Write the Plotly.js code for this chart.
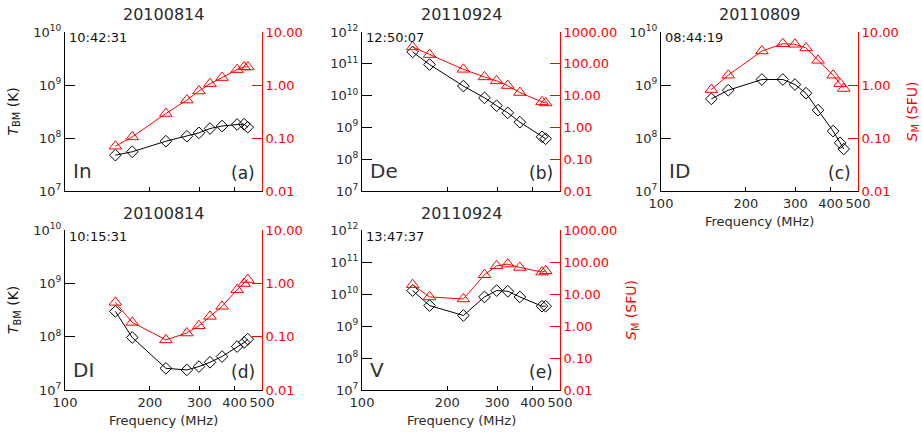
<!DOCTYPE html>
<html>
<head>
<meta charset="utf-8">
<script src="https://cdn.plot.ly/plotly-3.0.1.min.js"></script>
<style>html,body{margin:0;padding:0;background:#fff;}#chart{width:922px;height:433px;}</style>
</head>
<body>
<div id="chart"></div>
<script>
// ---- data ----
const freq10 = [150.9, 173.2, 228.0, 270.6, 298.7, 327.0, 360.8, 408.0, 432.0, 445.0];
const freq9  = [150.9, 173.2, 228.0, 270.6, 298.7, 327.0, 360.8, 432.0, 445.0];

const tbA = [4.75e7, 5.5e7, 8.7e7, 1.08e8, 1.25e8, 1.51e8, 1.68e8, 1.8e8, 1.82e8, 1.6e8];
const smA = [0.070, 0.105, 0.29, 0.52, 0.77, 1.06, 1.38, 1.95, 2.19, 2.19];

const tbB = [2.36e11, 9.5e10, 2.0e10, 8.5e9, 4.8e9, 2.87e9, 1.46e9, 5.07e8, 4.4e8];
const smB = [338, 195, 67, 38.7, 29, 20.7, 12.5, 6.35, 5.9];

const tbC = [5.47e8, 7.97e8, 1.27e9, 1.27e9, 1.02e9, 7.0e8, 3.35e8, 1.35e8, 8.1e7, 6.2e7];
const smC = [0.82, 1.53, 4.38, 6.0, 5.86, 5.0, 2.92, 1.53, 1.06, 0.86];

const tbD = [2.98e8, 9.66e7, 2.55e7, 2.38e7, 2.75e7, 3.31e7, 4.24e7, 6.53e7, 7.77e7, 8.98e7];
const smD = [0.44, 0.185, 0.087, 0.117, 0.16, 0.24, 0.37, 0.76, 0.99, 1.18];

const tbE = [1.28e10, 4.36e9, 2.13e9, 8.1e9, 1.28e10, 1.22e10, 8.1e9, 4.16e9, 4.16e9];
const smE = [19.6, 8.1, 7.0, 40, 76, 86, 67.6, 48.4, 53];

const dates  = ["20100814", "20110924", "20110809", "20100814", "20110924"];
const times  = ["10:42:31", "12:50:07", "08:44:19", "10:15:31", "13:47:37"];
const types  = ["In", "De", "ID", "DI", "V"];
const labels = ["(a)", "(b)", "(c)", "(d)", "(e)"];

const xTickVals = [100, 200, 300, 400, 500];
const xTickText = ["100", "200", "300", "400", "500"];
const tbTicks10 = [1e7, 1e8, 1e9, 1e10];
const tbText10  = ["10<sup>7</sup>", "10<sup>8</sup>", "10<sup>9</sup>", "10<sup>10</sup>"];
const tbTicks12 = [1e7, 1e8, 1e9, 1e10, 1e11, 1e12];
const tbText12  = ["10<sup>7</sup>", "10<sup>8</sup>", "10<sup>9</sup>", "10<sup>10</sup>", "10<sup>11</sup>", "10<sup>12</sup>"];
const smTicks10 = [0.01, 0.1, 1, 10];
const smText10  = ["0.01", "0.10", "1.00", "10.00"];
const smTicks1000 = [0.01, 0.1, 1, 10, 100, 1000];
const smText1000  = ["0.01", "0.10", "1.00", "10.00", "100.00", "1000.00"];

// ---- layout geometry (pixels) ----
const W = 922, H = 433;
const FONT = "DejaVu Sans, sans-serif";
const RED = "#ff0000";
const TXT = "#2a2a2a";
const panels = [
  {x: freq10, tb: tbA, sm: smA, xpx: [65, 262], ypx: [32, 191], big: false, xlab: false},
  {x: freq9,  tb: tbB, sm: smB, xpx: [362, 560], ypx: [32, 191], big: true,  xlab: false},
  {x: freq10, tb: tbC, sm: smC, xpx: [661, 858], ypx: [32, 191], big: false, xlab: true},
  {x: freq10, tb: tbD, sm: smD, xpx: [65, 262], ypx: [230, 390], big: false, xlab: true},
  {x: freq9,  tb: tbE, sm: smE, xpx: [362, 560], ypx: [230, 390], big: true,  xlab: true}
];

function minorVals(lo, hi) {
  const v = [];
  for (let e = lo; e < hi; e++) for (let m = 2; m <= 9; m++) v.push(m * Math.pow(10, e));
  return v;
}
const px = x => x / W;
const py = y => 1 - y / H;

const data = [];
const layout = {
  width: W, height: H,
  margin: {l: 0, r: 0, t: 0, b: 0},
  paper_bgcolor: "#fff", plot_bgcolor: "#fff",
  showlegend: false,
  font: {family: FONT, size: 13, color: TXT},
  annotations: []
};

function tickOnlyAxis(ya, xa, side, lo, hi, color) {
  return {
    overlaying: ya, anchor: xa, side: side, type: "log", range: [lo, hi],
    tickmode: "array", tickvals: minorVals(lo, hi), showticklabels: false,
    ticks: "inside", ticklen: 5, tickcolor: color, tickwidth: 1,
    showline: false, showgrid: false, zeroline: false
  };
}

panels.forEach((p, i) => {
  const n = i + 1, rn = i + 6;
  const xa = "x" + n, ya = "y" + n, yr = "y" + rn;
  data.push({
    x: p.x, y: p.tb, xaxis: xa, yaxis: ya, type: "scatter", mode: "lines+markers",
    line: {color: "#000", width: 1},
    marker: {symbol: "diamond-open", size: 9, color: "#000", line: {width: 1}}
  });
  data.push({
    x: p.x, y: p.sm, xaxis: xa, yaxis: yr, type: "scatter", mode: "lines+markers",
    line: {color: RED, width: 1},
    marker: {symbol: "triangle-up-open", size: 11, color: RED, line: {width: 1}}
  });
  const xd = [px(p.xpx[0]), px(p.xpx[1])];
  const yd = [py(p.ypx[1]), py(p.ypx[0])];
  layout["xaxis" + n] = {
    domain: xd, anchor: ya, type: "log", range: [2, Math.log10(500)],
    tickmode: "array", tickvals: xTickVals, ticktext: xTickText,
    showticklabels: p.xlab, ticks: "inside", ticklen: 4, tickcolor: "#000",
    showline: true, linecolor: "#000", linewidth: 1, showgrid: false, zeroline: false,
    tickfont: {family: FONT, size: 13, color: TXT}
  };
  const lo = 7, hi = p.big ? 12 : 10;
  layout["yaxis" + n] = {
    domain: yd, anchor: xa, type: "log", range: [lo, hi],
    tickmode: "array", tickvals: p.big ? tbTicks12 : tbTicks10, ticktext: p.big ? tbText12 : tbText10,
    ticks: "inside", ticklen: 10, tickcolor: "#000",
    showline: true, linecolor: "#000", linewidth: 1, showgrid: false, zeroline: false,
    tickfont: {family: FONT, size: 13, color: TXT}
  };
  const rlo = -2, rhi = p.big ? 3 : 1;
  layout["yaxis" + rn] = {
    overlaying: ya, anchor: xa, side: "right", type: "log", range: [rlo, rhi],
    tickmode: "array", tickvals: p.big ? smTicks1000 : smTicks10, ticktext: p.big ? smText1000 : smText10,
    ticks: "inside", ticklen: 10, tickcolor: RED,
    showline: true, linecolor: RED, linewidth: 1, showgrid: false, zeroline: false,
    tickfont: {family: FONT, size: 13, color: RED}
  };
  // minor tick axes
  layout["yaxis" + (10 + n)] = tickOnlyAxis(ya, xa, "left", lo, hi, "#000");
  layout["yaxis" + (15 + n)] = tickOnlyAxis(ya, xa, "right", rlo, rhi, RED);

  const cx = (p.xpx[0] + p.xpx[1]) / 2;
  layout.annotations.push({
    xref: "paper", yref: "paper", x: px(cx), y: py(p.ypx[0] - 17),
    text: dates[i], showarrow: false, xanchor: "center", yanchor: "middle",
    font: {family: FONT, size: 16, color: TXT}
  });
  layout.annotations.push({
    xref: "paper", yref: "paper", x: px(p.xpx[0] + 2), y: py(p.ypx[0] + 6),
    text: times[i], showarrow: false, xanchor: "left", yanchor: "middle",
    font: {family: FONT, size: 13, color: "#111"}
  });
  layout.annotations.push({
    xref: "paper", yref: "paper", x: px(p.xpx[0] + 6), y: py(p.ypx[1] - 20),
    text: types[i], showarrow: false, xanchor: "left", yanchor: "middle",
    font: {family: FONT, size: 20, color: "#333"}
  });
  layout.annotations.push({
    xref: "paper", yref: "paper", x: px(p.xpx[1] - 5), y: py(p.ypx[1] - 18),
    text: labels[i], showarrow: false, xanchor: "right", yanchor: "middle",
    font: {family: FONT, size: 17, color: TXT}
  });
  if (p.xlab) {
    layout.annotations.push({
      xref: "paper", yref: "paper", x: px(cx), y: py(p.ypx[1] + 30),
      text: "Frequency (MHz)", showarrow: false, xanchor: "center", yanchor: "middle",
      font: {family: FONT, size: 13, color: TXT}
    });
  }
  if (i === 0 || i === 3) {
    layout.annotations.push({
      xref: "paper", yref: "paper", x: px(14), y: py((p.ypx[0] + p.ypx[1]) / 2),
      text: "<i>T</i><sub>BM</sub> (K)", showarrow: false, textangle: -90,
      xanchor: "center", yanchor: "middle",
      font: {family: FONT, size: 14, color: "#111"}
    });
  }
  if (i === 2 || i === 4) {
    layout.annotations.push({
      xref: "paper", yref: "paper", x: px(p.xpx[1] + (i === 2 ? 55 : 72)), y: py((p.ypx[0] + p.ypx[1]) / 2),
      text: "<i>S</i><sub>M</sub> (SFU)", showarrow: false, textangle: -90,
      xanchor: "center", yanchor: "middle",
      font: {family: FONT, size: 14, color: RED}
    });
  }
});

Plotly.newPlot("chart", data, layout, {staticPlot: true, displayModeBar: false});
</script>
</body>
</html>
